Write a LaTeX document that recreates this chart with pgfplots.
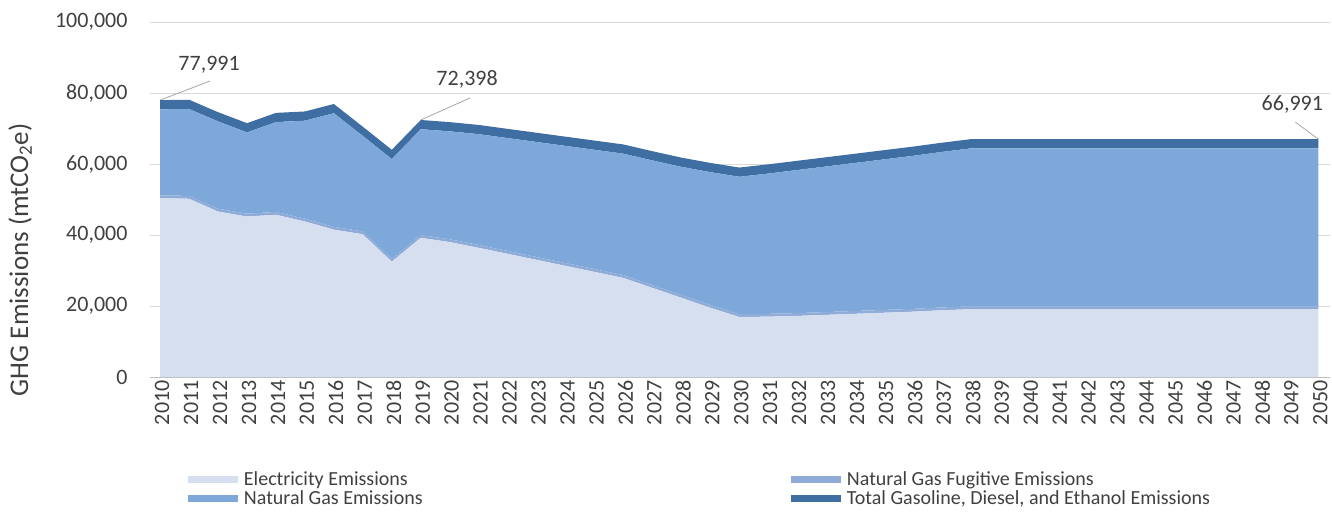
\documentclass[border=0pt]{standalone}
\usepackage{pgfplots}
\pgfplotsset{compat=1.18}
\usepackage{pgfplotstable}
\usepackage{fontspec}
\setmainfont{Carlito}
\definecolor{elec}{HTML}{D6DFF0}
\definecolor{fug}{HTML}{8FACD8}
\definecolor{ngas}{HTML}{7EA8DA}
\definecolor{gas}{HTML}{3F6FA2}
\definecolor{txt}{HTML}{404040}

\pgfplotstableread{
year elec fug ng gas
2010 50400 800 24191 2600
2011 50200 800 24500 2600
2012 46600 800 24600 2600
2013 45200 800 22900 2600
2014 45700 800 25300 2600
2015 43800 800 27600 2600
2016 41500 800 32000 2600
2017 40200 800 26900 2600
2018 32500 800 28100 2600
2019 39200 800 29798 2600
2020 38000 800 30400 2600
2021 36400 800 31200 2600
2022 34700 800 31800 2600
2023 33000 800 32400 2600
2024 31300 800 33000 2600
2025 29600 800 33600 2600
2026 27900 800 34200 2600
2027 25100 800 35100 2600
2028 22300 800 36100 2600
2029 19500 800 37400 2600
2030 16900 800 38700 2600
2031 17000 800 39500 2600
2032 17200 800 40300 2600
2033 17500 800 41000 2600
2034 17800 800 41700 2600
2035 18100 800 42400 2600
2036 18400 800 43100 2600
2037 18800 800 43800 2600
2038 19100 800 44500 2600
2039 19100 800 44500 2600
2040 19100 800 44500 2600
2041 19100 800 44500 2600
2042 19100 800 44500 2600
2043 19100 800 44500 2600
2044 19100 800 44500 2600
2045 19100 800 44500 2600
2046 19100 800 44500 2600
2047 19100 800 44500 2600
2048 19100 800 44500 2600
2049 19100 800 44500 2600
2050 19100 800 44491 2600
}\datatable

\begin{document}
\begin{tikzpicture}
\begin{axis}[
  at={(0pt,0pt)}, anchor=south west,
  scale only axis, width=1180pt, height=355pt,
  xmin=2009.65, xmax=2050.4, ymin=0, ymax=100000,
  stack plots=y, area style, axis on top=false,
  legend image code/.code={\fill[#1] (0pt,-3.5pt) rectangle (50pt,3.5pt);},
  axis line style={draw=none},
  major tick length=0pt,
  xtick={2010,...,2050},
  ytick={0,20000,40000,60000,80000,100000},
  ymajorgrids, grid style={draw=black!15, line width=0.8pt},
  extra y ticks={0}, extra y tick labels={},
  extra y tick style={grid style={draw=black!25, line width=1pt}},
  scaled y ticks=false,
  /pgf/number format/assume math mode=true,
  xticklabel style={rotate=90, anchor=east, yshift=-2pt, font=\fontsize{22}{22}\selectfont, text=txt, /pgf/number format/fixed, /pgf/number format/1000 sep={}},
  yticklabel style={xshift=-19pt, font=\fontsize{22}{22}\selectfont, text=txt, /pgf/number format/fixed, /pgf/number format/precision=0, /pgf/number format/1000 sep={,}},
  xtick pos=bottom, ytick pos=left,
  ylabel={GHG Emissions (mtCO\textsubscript{2}e)},
  ylabel style={at={(axis description cs:-0.110,0.33)}, anchor=center, rotate=0, font=\fontsize{27}{27}\selectfont, text=txt},
  legend columns=2,
  legend cell align=left,
  legend style={at={(axis description cs:0.032,-0.26)}, anchor=north west, draw=none, fill=none,
    font=\fontsize{20}{20}\selectfont, text=txt, row sep=0pt, inner sep=0pt,
    nodes={inner sep=2pt}},
]
\addplot[fill=elec, draw=none] table[x=year, y=elec]{\datatable} \closedcycle;
\addlegendentry{\hspace{4pt}\makebox[545pt][l]{Electricity Emissions}}
\addplot[fill=fug, draw=none] table[x=year, y=fug]{\datatable} \closedcycle;
\addlegendentry{\hspace{4pt}Natural Gas Fugitive Emissions}
\addplot[fill=ngas, draw=none] table[x=year, y=ng]{\datatable} \closedcycle;
\addlegendentry{\hspace{4pt}\makebox[545pt][l]{Natural Gas Emissions}}
\addplot[fill=gas, draw=none] table[x=year, y=gas]{\datatable} \closedcycle;
\addlegendentry{\hspace{4pt}Total Gasoline, Diesel, and Ethanol Emissions}

\draw[black!35, line width=0.8pt] (axis cs:2010,77991) -- (axis cs:2011.73,83400);
\draw[black!35, line width=0.8pt] (axis cs:2019,72398) -- (axis cs:2020.7,78600);
\draw[black!35, line width=0.8pt] (axis cs:2050,66991) -- (axis cs:2049.2,71830);
\node[font=\fontsize{22}{22}\selectfont, text=txt] at (axis cs:2011.69,87900) {77,991};
\node[font=\fontsize{22}{22}\selectfont, text=txt] at (axis cs:2020.6,83900) {72,398};
\node[font=\fontsize{22}{22}\selectfont, text=txt] at (axis cs:2049.1,76760) {66,991};
\end{axis}
\path[use as bounding box] (-150pt,-135pt) rectangle (1182pt,377pt);
\end{tikzpicture}
\end{document}
